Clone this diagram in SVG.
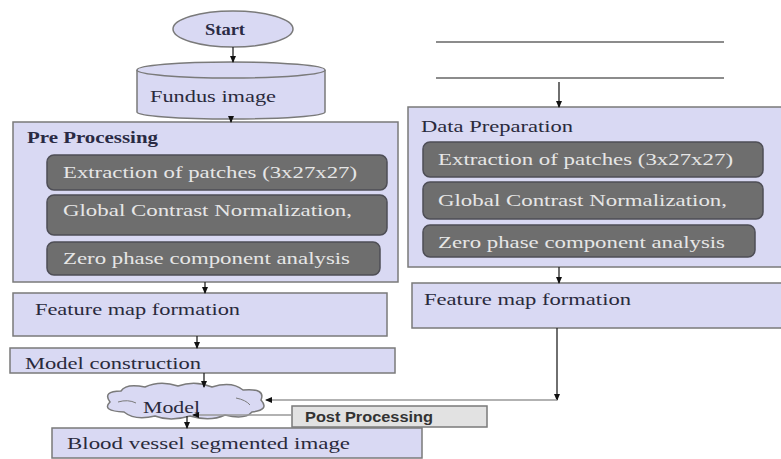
<svg xmlns="http://www.w3.org/2000/svg" width="781" height="459" viewBox="0 0 781 459">
<defs>
<marker id="arr" markerWidth="8" markerHeight="8" refX="6" refY="4" orient="auto" markerUnits="userSpaceOnUse">
<path d="M0,1 L7,4 L0,7 Z" fill="#111"/>
</marker>
<style>
.box{fill:#d9d9f3;stroke:#7a7a7a;stroke-width:1.5}
.gbox{fill:#6e6e6e;stroke:#4e4e56;stroke-width:1.5}
.t{font-family:"Liberation Serif","Times New Roman",serif;font-size:17px;fill:#2a2a3c}
.tb{font-family:"Liberation Serif","Times New Roman",serif;font-size:16px;font-weight:bold;fill:#2a2a44}
.tw{font-family:"Liberation Serif","Times New Roman",serif;font-size:17px;fill:#e6e6e6}
.ts{font-family:"Liberation Sans",Arial,sans-serif;font-size:14px;font-weight:bold;fill:#333}
.c{stroke:#222;stroke-width:1.3;fill:none}
.cl{stroke:#999;stroke-width:1.3;fill:none}
</style>
</defs>
<rect width="781" height="459" fill="#ffffff"/>

<g id="start">
<ellipse cx="233" cy="29" rx="60" ry="18" class="box"/>
<text x="205" y="35" class="tb" textLength="40" lengthAdjust="spacingAndGlyphs">Start</text>
</g>

<g id="fundus">
<path d="M137,70 L137,112 A94,7 0 0 0 325,112 L325,70" class="box"/>
<ellipse cx="231" cy="70" rx="94" ry="8" class="box"/>
<text x="150" y="102" class="t" textLength="126" lengthAdjust="spacingAndGlyphs">Fundus image</text>
</g>

<g id="preprocessing">
<rect x="13" y="122" width="385" height="160" class="box"/>
<text x="27" y="143" class="tb" textLength="131" lengthAdjust="spacingAndGlyphs">Pre Processing</text>
<rect x="47" y="155" width="340" height="35" rx="7" class="gbox"/>
<text x="63" y="178" class="tw" textLength="294" lengthAdjust="spacingAndGlyphs">Extraction of patches (3x27x27)</text>
<rect x="47" y="195" width="340" height="40" rx="7" class="gbox"/>
<text x="63" y="216" class="tw" textLength="289" lengthAdjust="spacingAndGlyphs">Global Contrast Normalization,</text>
<rect x="47" y="242" width="333" height="33" rx="7" class="gbox"/>
<text x="63" y="264" class="tw" textLength="287" lengthAdjust="spacingAndGlyphs">Zero phase component analysis</text>
</g>

<g id="feature-left">
<rect x="13" y="293" width="374" height="43" class="box"/>
<text x="35" y="315" class="t" textLength="205" lengthAdjust="spacingAndGlyphs">Feature map formation</text>
</g>

<g id="model-construction">
<rect x="10" y="348" width="385" height="25" class="box"/>
<text x="25" y="369" class="t" textLength="176" lengthAdjust="spacingAndGlyphs">Model construction</text>
</g>

<g id="model">
<path d="M110,402 Q102,391 121,391 Q126,383 145,387 Q160,380 178,386 Q195,380 212,387 Q232,381 243,390 Q266,388 261,400 Q270,410 252,412 Q245,420 225,415 Q210,422 190,416 Q170,422 155,416 Q135,421 124,412 Q101,411 110,402 Z" class="box"/>
<path d="M118,402 Q128,399 136,403 M236,398 Q246,400 250,405" stroke="#7a7a7a" stroke-width="1" fill="none"/>
<text x="143" y="413" class="t" textLength="57" lengthAdjust="spacingAndGlyphs">Model</text>
</g>

<g id="post-processing">
<rect x="292" y="406" width="195" height="21" fill="#e2e2e2" stroke="#7a7a7a" stroke-width="1.5"/>
<text x="305" y="422" class="ts" textLength="128" lengthAdjust="spacingAndGlyphs">Post Processing</text>
</g>

<g id="blood-vessel">
<rect x="52" y="428" width="370" height="30" class="box"/>
<text x="67" y="449" class="t" textLength="283" lengthAdjust="spacingAndGlyphs">Blood vessel segmented image</text>
</g>

<g id="input-lines">
<line x1="436" y1="42" x2="724" y2="42" stroke="#666" stroke-width="1.5"/>
<line x1="436" y1="78" x2="724" y2="78" stroke="#666" stroke-width="1.5"/>
</g>

<g id="data-preparation">
<rect x="408" y="107" width="380" height="160" class="box"/>
<text x="421" y="132" class="t" textLength="152" lengthAdjust="spacingAndGlyphs">Data Preparation</text>
<rect x="423" y="142" width="340" height="35" rx="7" class="gbox"/>
<text x="438" y="165" class="tw" textLength="295" lengthAdjust="spacingAndGlyphs">Extraction of patches (3x27x27)</text>
<rect x="423" y="182" width="340" height="37" rx="7" class="gbox"/>
<text x="438" y="206" class="tw" textLength="289" lengthAdjust="spacingAndGlyphs">Global Contrast Normalization,</text>
<rect x="423" y="225" width="332" height="32" rx="7" class="gbox"/>
<text x="438" y="248" class="tw" textLength="287" lengthAdjust="spacingAndGlyphs">Zero phase component analysis</text>
</g>

<g id="feature-right">
<rect x="412" y="283" width="376" height="45" class="box"/>
<text x="424" y="305" class="t" textLength="207" lengthAdjust="spacingAndGlyphs">Feature map formation</text>
</g>

<g id="connectors">
<line x1="233" y1="47" x2="233" y2="62" class="c" marker-end="url(#arr)"/>
<line x1="231" y1="119" x2="231" y2="122" class="c" marker-end="url(#arr)"/>
<line x1="205" y1="282" x2="205" y2="293" class="c" marker-end="url(#arr)"/>
<line x1="197" y1="336" x2="197" y2="348" class="c" marker-end="url(#arr)"/>
<line x1="204" y1="373" x2="204" y2="387" class="c" marker-end="url(#arr)"/>
<line x1="187" y1="416" x2="187" y2="428" class="c" marker-end="url(#arr)"/>
<line x1="292" y1="415" x2="193" y2="415" class="cl" marker-end="url(#arr)"/>
<line x1="559" y1="82" x2="559" y2="107" class="c" marker-end="url(#arr)"/>
<line x1="559" y1="267" x2="559" y2="283" class="c" marker-end="url(#arr)"/>
<line x1="557" y1="328" x2="557" y2="400" class="c" marker-end="url(#arr)"/>
<line x1="557" y1="400" x2="266" y2="400" class="cl" marker-end="url(#arr)"/>
</g>
</svg>
